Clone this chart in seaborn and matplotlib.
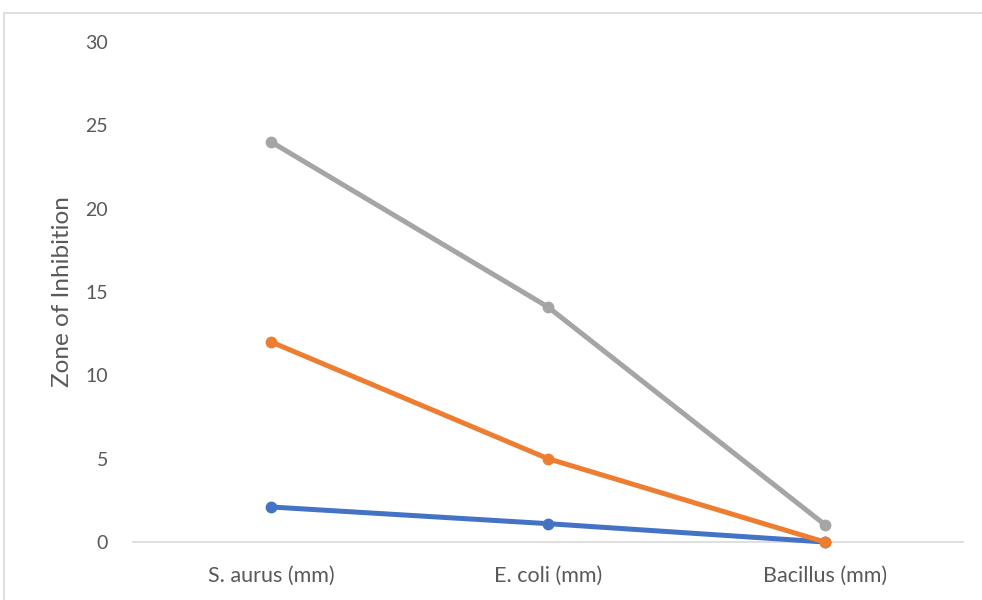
import matplotlib
matplotlib.use("Agg")
import matplotlib.pyplot as plt
from matplotlib.patches import Rectangle
import seaborn as sns
import pandas as pd

categories = ["S. aurus (mm)", "E. coli (mm)", "Bacillus (mm)"]
series_names = ["Series1", "Series2", "Series3"]
series1 = [2.1, 1.1, 0]
series2 = [12, 5, 0]
series3 = [24, 14.1, 1.05]
colors = ["#4472C4", "#ED7D31", "#A5A5A5"]
yticks = [0, 5, 10, 15, 20, 25, 30]

rows = []
for name, vals in zip(series_names, [series1, series2, series3]):
    for i, (c, v) in enumerate(zip(categories, vals)):
        rows.append({"pos": i, "category": c, "value": v, "series": name})
df = pd.DataFrame(rows)

sns.set_style("white")
plt.rcParams["font.family"] = ["Lato", "DejaVu Sans"]

fig = plt.figure(figsize=(9.82, 6.0), dpi=100)
ax = fig.add_axes([133/982, 58/600, (963-133)/982, 500/600])

sns.lineplot(data=df, x="pos", y="value", hue="series", palette=colors,
             marker="o", markersize=8.5, markeredgewidth=0, linewidth=3.6,
             sort=False, legend=False, ax=ax)
for ln in ax.lines:
    ln.set_clip_on(False)

ax.set_xlim(-0.5, 2.5)
ax.set_ylim(0, 30)
ax.set_yticks(yticks)
ax.set_xticks(range(len(categories)))
ax.set_xticklabels(categories)
for s in ["top", "right", "left"]:
    ax.spines[s].set_visible(False)
ax.spines["bottom"].set_color("#D9D9D9")
ax.spines["bottom"].set_linewidth(1.2)
ax.spines["bottom"].set_zorder(0)
ax.tick_params(axis="both", length=0, colors="#595959")
ax.tick_params(axis="y", pad=18, labelsize=14)
ax.tick_params(axis="x", pad=17, labelsize=15.5)
ax.set_xlabel("")
ax.set_ylabel("Zone of Inhibition", fontsize=17.5, color="#595959", labelpad=9)

fig.patches.append(Rectangle((4/982, -0.1), 2, (600-13)/600 + 0.1,
                             transform=fig.transFigure, fill=False,
                             edgecolor="#D9D9D9", linewidth=1.2))

fig.savefig("out.png", dpi=100)
